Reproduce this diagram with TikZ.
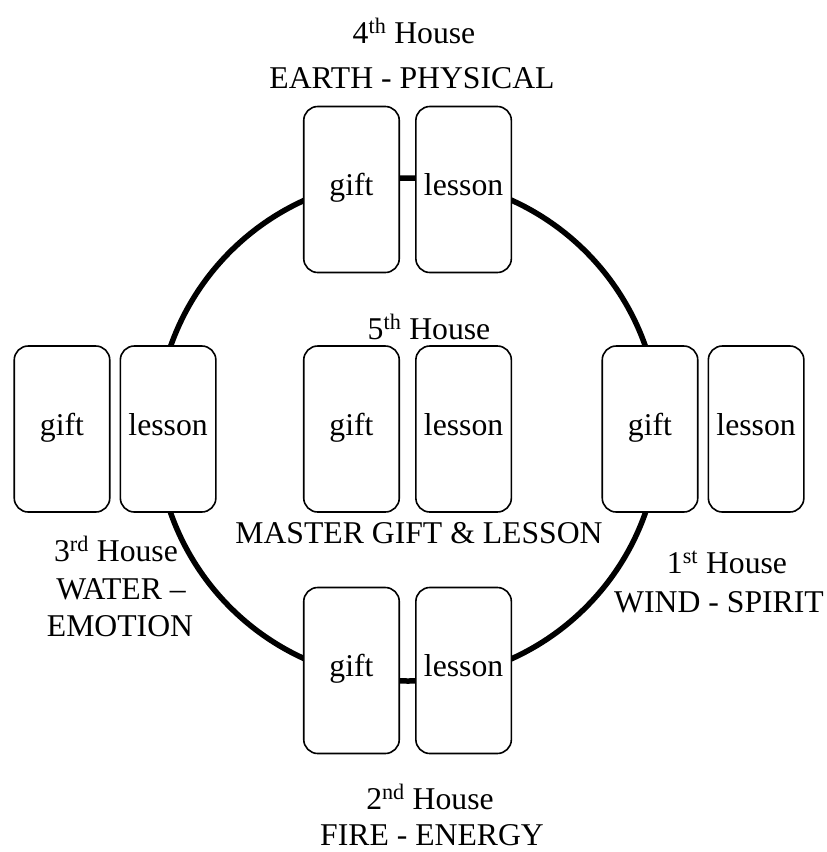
\documentclass[tikz,border=0pt]{standalone}
\usepackage{fontspec}
\setmainfont{Liberation Serif}
\usetikzlibrary{positioning}

\begin{document}
\begin{tikzpicture}[x=1pt,y=-1pt,
  every node/.style={font=\fontsize{31.7pt}{38pt}\selectfont},
  card/.style={draw,line width=1.6pt,fill=white,rounded corners=14pt,
    minimum width=95.5pt,minimum height=166pt,inner sep=0pt,
    text height=22pt,text depth=10pt},
  house/.style={anchor=base,inner sep=0pt}]
  \useasboundingbox (0,0) rectangle (827,852);
  \coordinate (mid) at (408,429.5);
  \draw[line width=5.5pt] (mid) circle[radius=251.5pt];
  \foreach \h/\x/\y/\gap in {4/351.5/189.5/15,5/351.5/429/15,2/351.5/670.5/15,3/62/429/9,1/650/429/9}{
    \node[card] (g\h) at (\x,\y) {gift};
    \node[card,right=\gap pt of g\h] (l\h) {lesson};
  }
  \node[house] (h4) at (414,43) {4\textsuperscript{th} House};
  \node[house] (e4) at (412,88) {EARTH - PHYSICAL};
  \node[house] (h5) at (429,339) {5\textsuperscript{th} House};
  \node[house] (e5) at (419,543) {MASTER GIFT \& LESSON};
  \node[house] (h3) at (116,561) {3\textsuperscript{rd} House};
  \node[house] (e3) at (121,599) {WATER –};
  \node[house] (f3) at (120,636) {EMOTION};
  \node[house] (h1) at (727,573) {1\textsuperscript{st} House};
  \node[house] (e1) at (719,612) {WIND - SPIRIT};
  \node[house] (h2) at (430,809) {2\textsuperscript{nd} House};
  \node[house] (e2) at (432,845) {FIRE - ENERGY};
\end{tikzpicture}
\end{document}
